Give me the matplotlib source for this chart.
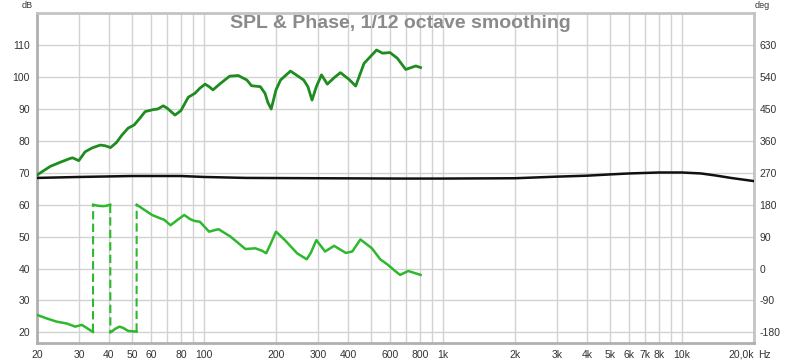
import numpy as np
import matplotlib
matplotlib.use("Agg")
import matplotlib.pyplot as plt
from matplotlib.ticker import FixedLocator, NullLocator

# ---- data ----
spl_freq = [20, 22.7, 25, 27.5, 28.2, 29.9, 31.8, 34, 36.8, 38.5, 40.6, 43, 45.3, 48.1, 51,
            54, 56.7, 61.2, 64, 67.5, 70, 75.6, 80, 85.9, 91.5, 96, 101, 105, 109, 117,
            128, 139, 151, 158, 172, 180, 185, 191, 200, 209, 230, 261, 272, 283, 295,
            310, 328, 350, 372, 404, 431, 467, 527, 558, 600, 644, 698, 769, 805]
spl_db = [69.3, 72.0, 73.3, 74.5, 74.7, 73.8, 76.6, 77.8, 78.7, 78.5, 77.9, 79.5, 81.8, 84.0, 85.0,
          87.2, 89.2, 89.8, 90.0, 91.0, 90.3, 88.1, 89.5, 93.7, 94.9, 96.5, 97.8, 97.0, 96.0, 98.0,
          100.3, 100.5, 99.1, 97.3, 97.0, 94.9, 92.0, 90.0, 96.0, 99.1, 101.9, 99.1, 97.0, 92.8, 97.0,
          100.7, 97.8, 99.8, 101.4, 99.3, 97.2, 104.3, 108.5, 107.5, 107.7, 105.9, 102.4, 103.5, 103.0]

phase_freq = [20, 22, 24.2, 26.6, 28.9, 30.8, 32, 34.3,
              34.35, 36, 37.9, 39, 40.5,
              40.55, 41.1, 42.5, 44.3, 46, 48.1, 50, 52.2,
              52.25, 55, 60.6, 65.9, 68, 72.4, 77, 82.6, 87.6, 91.5, 96, 105, 115, 129,
              149, 164, 175, 182, 190, 200, 218, 245, 269, 280, 295, 321, 350, 392, 417,
              451, 504, 546, 589, 625, 661, 715, 805]
phase_deg = [-131, -141, -150, -155, -164, -159, -166, -179,
             180, 177, 176, 177, 180,
             -180, -178, -170, -164, -168, -176, -177, -178,
             180, 170, 151, 141, 138, 122, 136, 151, 139, 134, 132, 104, 111, 90,
             55, 57, 50, 43, 70, 104, 80, 43, 26, 45, 80, 48, 64, 44, 48,
             82, 57, 26, 10, -5, -18, -7, -18]

ref_freq = [20, 30, 50, 80, 100, 150, 300, 660, 1000, 2000, 3000, 4000, 5000, 6000,
            8000, 10000, 12000, 14000, 16000, 20000]
ref_db = [68.4, 68.7, 69.0, 69.0, 68.7, 68.4, 68.3, 68.2, 68.2, 68.3, 68.8, 69.1, 69.5, 69.8,
          70.1, 70.1, 69.8, 69.1, 68.4, 67.4]

x_ticks = [20, 30, 40, 50, 60, 80, 100, 200, 300, 400, 600, 800, 1000, 2000, 3000,
           4000, 5000, 6000, 7000, 8000, 10000, 20000]
x_labels = ["20", "30", "40", "50", "60", "80", "100", "200", "300", "400", "600", "800",
            "1k", "2k", "3k", "4k", "5k", "6k", "7k", "8k", "10k", "20,0k"]
x_grid = [20, 30, 40, 50, 60, 70, 80, 90, 100, 200, 300, 400, 500, 600, 700, 800, 900,
          1000, 2000, 3000, 4000, 5000, 6000, 7000, 8000, 9000, 10000, 20000]
db_ticks = [20, 30, 40, 50, 60, 70, 80, 90, 100, 110]
deg_ticks = [-180, -90, 0, 90, 180, 270, 360, 450, 540, 630]

title = "SPL & Phase, 1/12 octave smoothing"

# ---- styling ----
plt.rcParams['font.family'] = ['Liberation Sans', 'DejaVu Sans']
plt.rcParams['axes.unicode_minus'] = False
W, H = 800, 364
fig = plt.figure(figsize=(W / 100, H / 100), dpi=100)
ax = fig.add_axes([37 / W, 1 - 343 / H, (754 - 37) / W, (343 - 13) / H])

db_lim = (16.65, 120.1)
ax.set_xscale('log')
ax.set_xlim(20, 20000)
ax.set_ylim(*db_lim)

grid_c = '#d2d2d2'
for f in x_grid:
    ax.axvline(f, color=grid_c, lw=1.0, zorder=0)
for d in db_ticks:
    ax.axhline(d, color=grid_c, lw=1.0, zorder=0)

ax.xaxis.set_major_locator(FixedLocator(x_ticks))
ax.xaxis.set_minor_locator(NullLocator())
ax.set_xticklabels(x_labels)
ax.get_xticklabels()[-1].set_ha('right')
ax.set_yticks(db_ticks)
ax.tick_params(axis='both', length=0, labelsize=7.5, colors='#333333')
ax.tick_params(axis='x', pad=5)
ax.tick_params(axis='y', pad=5)

for s in ax.spines.values():
    s.set_color('#c4c4c4')
    s.set_linewidth(2)
ax.spines['left'].set_color('#b0b0b0')
ax.spines['bottom'].set_color('#b0b0b0')

ax2 = ax.twinx()
ax2.set_ylim(9 * db_lim[0] - 360, 9 * db_lim[1] - 360)
ax2.set_yticks(deg_ticks)
ax2.tick_params(axis='y', length=0, labelsize=7.5, colors='#333333', pad=4)
for s in ax2.spines.values():
    s.set_visible(False)

# reference black line
ax.plot(ref_freq, ref_db, color='#111111', lw=1.8, zorder=3)
# SPL
ax.plot(spl_freq, spl_db, color='#1e8c1e', lw=2.0, zorder=4, solid_joinstyle='round')

# phase with wrap split
pf = np.array(phase_freq, float)
pd = np.array(phase_deg, float)
jumps = np.where(np.abs(np.diff(pd)) > 180)[0]
start = 0
pc = '#2db82d'
for j in list(jumps) + [len(pd) - 1]:
    ax2.plot(pf[start:j + 1], pd[start:j + 1], color=pc, lw=1.8, zorder=4,
             solid_joinstyle='round')
    if j < len(pd) - 1:
        ax2.plot([pf[j], pf[j + 1]], [pd[j], pd[j + 1]], color=pc, lw=1.5,
                 ls=(0, (4, 2)), zorder=4)
    start = j + 1

fig.text(400 / W, 1 - 23 / H, title, ha='center', va='center', fontsize=14,
         fontweight='bold', color='#8a8a8a')
fig.text(22 / W, 1 - 6 / H, "dB", ha='left', va='center', fontsize=6.5, color='#333333')
fig.text(755 / W, 1 - 6 / H, "deg", ha='left', va='center', fontsize=6.5, color='#333333')
fig.text(758 / W, 1 - 355 / H, "Hz", ha='left', va='center', fontsize=7.5, color='#333333')

fig.savefig('out.png', dpi=100)
